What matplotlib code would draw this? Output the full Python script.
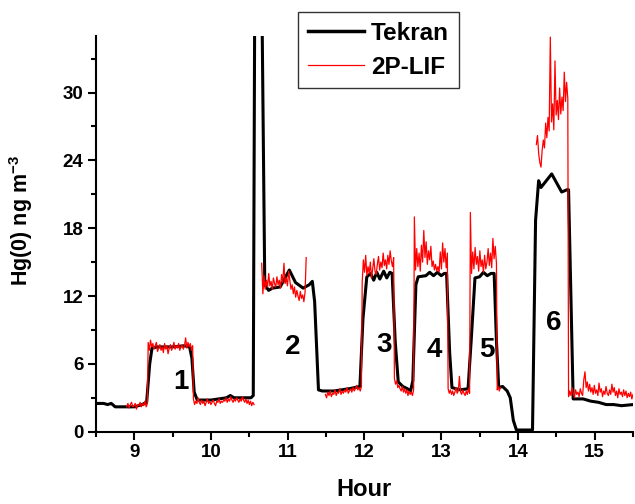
import numpy as np
import matplotlib.pyplot as plt

plt.rcParams['font.family'] = ['Liberation Sans', 'DejaVu Sans']
plt.rcParams['font.weight'] = 'bold'
plt.rcParams['mathtext.fontset'] = 'custom'
plt.rcParams['mathtext.rm'] = 'Liberation Sans:bold'
plt.rcParams['mathtext.bf'] = 'Liberation Sans:bold'

# Tekran readings (hour, Hg(0) ng m-3)
tekran_hour = [8.50, 8.60, 8.65, 8.70, 8.75, 8.80, 8.90, 9.00, 9.10, 9.16, 9.20, 9.23,
               9.30, 9.50, 9.65, 9.72, 9.75, 9.78, 9.82, 9.90, 10.00, 10.10, 10.20, 10.25,
               10.30, 10.40, 10.52, 10.55, 10.57, 10.66, 10.70, 10.75, 10.80, 10.90, 11.02,
               11.10, 11.20, 11.28, 11.32, 11.35, 11.40, 11.45, 11.60, 11.80, 11.94, 11.98,
               12.03, 12.08, 12.12, 12.16, 12.20, 12.25, 12.29, 12.33, 12.36, 12.40, 12.44,
               12.50, 12.56, 12.60, 12.63, 12.67, 12.70, 12.80, 12.85, 12.90, 12.95, 13.00,
               13.04, 13.07, 13.11, 13.14, 13.25, 13.35, 13.39, 13.44, 13.50, 13.55, 13.60,
               13.65, 13.69, 13.72, 13.75, 13.80, 13.86, 13.90, 13.94, 13.98, 14.19, 14.23,
               14.27, 14.30, 14.44, 14.57, 14.64, 14.66, 14.72, 14.85, 14.95, 15.05, 15.15,
               15.25, 15.35, 15.50]
tekran_hg = [2.5, 2.5, 2.4, 2.5, 2.2, 2.2, 2.2, 2.2, 2.4, 2.6, 6.0, 7.4,
             7.5, 7.5, 7.6, 7.5, 6.5, 3.5, 2.8, 2.8, 2.8, 2.9, 3.0, 3.2,
             3.0, 3.0, 3.0, 3.2, 40.0, 40.0, 13.0, 12.5, 12.7, 12.8, 14.3,
             13.2, 12.7, 13.0, 13.3, 11.5, 3.7, 3.6, 3.6, 3.8, 4.0, 10.0,
             13.7, 14.0, 13.4, 14.1, 13.5, 14.2, 13.6, 14.1, 14.0, 8.0, 4.4,
             4.0, 3.8, 3.6, 4.5, 13.0, 13.7, 13.8, 14.1, 13.8, 14.1, 13.8,
             14.0, 14.0, 7.0, 3.9, 3.7, 3.8, 8.0, 13.6, 13.7, 14.1, 13.8,
             14.0, 14.0, 8.0, 3.9, 4.0, 3.6, 3.0, 1.0, 0.15, 0.15, 18.7,
             22.2, 21.6, 22.8, 21.2, 21.4, 21.4, 2.9, 2.9, 2.7, 2.6, 2.4,
             2.4, 2.3, 2.4]

# 2P-LIF readings, each piece: (first hour, last hour) and evenly spaced values
lif_1a_span = (8.90, 9.17)
lif_1a = [2.2, 2.5, 2.1, 2.4, 2.6, 2.2, 2.3, 2.5, 2.0, 2.4, 2.3, 2.6, 2.2, 2.5, 2.3, 2.7, 2.2, 2.5]
lif_1b_span = (9.18, 9.76)
lif_1b = [7.9, 7.2, 8.1, 7.5, 7.8, 7.3, 7.6, 7.9, 7.1, 7.4, 7.7, 7.2, 7.5, 7.0, 7.8, 7.3, 7.6, 6.9,
          7.4, 7.7, 7.2, 7.5, 7.9, 7.3, 7.6, 7.4, 7.8, 7.2, 7.5, 7.7, 7.3, 7.6, 8.3, 7.4, 7.9, 7.5,
          7.8, 7.2, 7.6]
lif_1c_span = (9.77, 10.56)
lif_1c = [2.9, 2.4, 2.7, 2.5, 3.0, 2.6, 2.4, 2.8, 2.5, 2.7, 2.3, 2.6, 2.9, 2.5, 2.7, 2.4, 2.6, 2.8,
          2.5, 2.3, 2.7, 2.6, 2.9, 2.5, 2.7, 2.6, 2.8, 2.7, 3.0, 2.6, 2.9, 2.7, 3.1, 2.8, 2.6, 2.9,
          2.7, 3.0, 2.8, 2.6, 2.9, 2.7, 3.1, 2.8, 2.6, 2.9, 2.5, 2.8, 2.4, 2.7, 2.3, 2.6, 2.4]
lif_2_span = (10.66, 11.24)
lif_2 = [14.9, 12.2, 13.8, 12.6, 13.4, 12.8, 14.0, 12.9, 13.3, 12.6, 13.6, 13.1, 12.8, 13.7, 13.0,
         13.4, 12.7, 13.9, 13.2, 14.9, 13.1, 13.6, 12.9, 14.2, 13.4, 12.6, 13.0, 12.2, 12.8, 11.9,
         12.5, 12.0, 11.6, 12.4, 11.8, 12.1, 11.5, 12.3, 15.4]
lif_3a_span = (11.49, 11.96)
lif_3a = [3.3, 3.0, 3.5, 3.2, 3.6, 3.1, 3.4, 3.3, 3.7, 3.2, 3.5, 3.4, 3.8, 3.3, 3.6, 3.4, 3.7, 3.5,
          3.9, 3.4, 3.6, 3.8, 3.5, 3.9, 3.6, 3.8, 4.1, 3.7, 3.9, 3.6, 4.0]
lif_3b_span = (11.97, 12.38)
lif_3b = [13.2, 15.2, 14.1, 15.6, 13.8, 14.6, 14.0, 15.0, 13.6, 14.4, 15.3, 14.2, 13.9, 14.8, 15.5,
          14.3, 15.0, 14.5, 15.8, 14.7, 15.2, 14.4, 15.6, 14.8, 16.0, 15.1, 14.6, 15.4]
lif_4a_span = (12.39, 12.64)
lif_4a = [4.7, 4.2, 4.5, 3.9, 4.1, 3.8, 3.6, 4.0, 3.5, 3.8, 3.4, 3.7, 3.2, 3.6, 3.3, 3.5, 3.2, 3.7]
lif_4b_span = (12.65, 13.08)
lif_4b = [19.0, 14.3, 16.2, 14.6, 15.8, 14.2, 16.5, 15.0, 17.8, 15.4, 16.8, 14.8, 16.0, 15.2, 16.4,
          14.6, 15.1, 14.3, 14.8, 14.2, 14.6, 14.1, 15.9, 14.4, 16.7, 15.0, 16.2, 14.5, 15.8]
lif_5a_span = (13.09, 13.37)
lif_5a = [3.8, 3.4, 3.7, 3.3, 3.6, 3.2, 3.5, 3.9, 3.4, 3.6, 4.9, 3.5, 3.3, 3.7, 3.4, 3.2, 3.6, 3.3,
          3.8, 3.4]
lif_5b_span = (13.38, 13.72)
lif_5b = [19.4, 14.0, 15.9, 14.4, 16.3, 14.8, 15.5, 14.2, 16.0, 14.6, 15.2, 14.1, 15.6, 14.4, 15.0,
          16.2, 14.7, 15.8, 14.5, 17.1, 15.3, 16.4, 14.9]
lif_5c_span = (13.73, 13.77)
lif_5c = [3.7, 4.0, 3.6, 3.9]
lif_6a_span = (14.24, 14.65)
lif_6a = [25.4, 26.2, 24.6, 23.8, 23.4, 24.9, 25.8, 25.1, 27.3, 26.0, 27.8, 26.6, 34.9, 27.4, 29.0,
          26.7, 32.8, 28.0, 29.3, 27.6, 30.4, 28.1, 29.6, 28.4, 31.8, 29.2, 30.9, 29.5]
lif_6b_span = (14.66, 15.50)
lif_6b = [3.1, 3.6, 3.2, 3.9, 3.4, 3.0, 3.7, 3.3, 3.5, 3.1, 3.8, 3.4, 3.2, 4.6, 5.3, 3.9, 4.4, 3.6,
          4.2, 3.5, 3.9, 3.3, 4.1, 3.4, 3.7, 3.2, 4.3, 3.5, 3.8, 3.1, 3.6, 3.3, 4.0, 3.4, 3.2, 3.7,
          3.3, 4.2, 3.5, 3.9, 3.2, 3.6, 3.0, 3.8, 3.3, 3.5, 3.1, 3.7, 3.2, 3.6, 3.0, 3.4, 3.1, 3.5,
          2.9, 3.3]

# continuous recording stretches (gaps between them)
lif_stretches = [
    [(lif_1a_span, lif_1a), (lif_1b_span, lif_1b), (lif_1c_span, lif_1c)],
    [(lif_2_span, lif_2)],
    [(lif_3a_span, lif_3a), (lif_3b_span, lif_3b), (lif_4a_span, lif_4a), (lif_4b_span, lif_4b),
     (lif_5a_span, lif_5a), (lif_5b_span, lif_5b), (lif_5c_span, lif_5c)],
    [(lif_6a_span, lif_6a), (lif_6b_span, lif_6b)],
]

step_labels = ['1', '2', '3', '4', '5', '6']
step_label_hour = [9.61, 11.06, 12.25, 12.91, 13.60, 14.47]
step_label_hg = [4.4, 7.5, 7.7, 7.2, 7.2, 9.6]

lif_t, lif_v = [], []
for stretch in lif_stretches:
    for (t0, t1), vals in stretch:
        lif_t.extend(np.linspace(t0, t1, len(vals)))
        lif_v.extend(vals)
    lif_t.append(np.nan)
    lif_v.append(np.nan)

fig = plt.figure(figsize=(6.35, 5.04), dpi=100)
ax = fig.add_axes([96/635, 1-431.7/504, (633-96)/635, (431.7-36)/504])

ax.plot(tekran_hour, tekran_hg, color='black', lw=2.2, label='Tekran', zorder=2)
ax.plot(lif_t, lif_v, color='#ff0000', lw=0.9, label='2P-LIF', zorder=3)

for lab, x, y in zip(step_labels, step_label_hour, step_label_hg):
    ax.text(x, y, lab, fontsize=20, fontweight='bold', ha='center', va='center')

ax.set_xlim(8.5, 15.5)
ax.set_ylim(0, 35)
ax.set_xticks(np.arange(9, 16, 1))
ax.set_xticks(np.arange(8.5, 15.6, 0.5), minor=True)
ax.set_yticks(np.arange(0, 31, 6))
ax.set_yticks(np.arange(0, 35, 3), minor=True)
ax.spines['top'].set_visible(False)
ax.spines['right'].set_visible(False)
for s in ['left', 'bottom']:
    ax.spines[s].set_linewidth(1.5)
ax.tick_params(which='major', length=6, width=1.5, labelsize=13.5, pad=3)
ax.tick_params(which='minor', length=3.5, width=1.5)
ax.set_xlabel('Hour', fontsize=17, fontweight='bold', labelpad=12)
ax.set_ylabel('Hg(0) ng m$^{-3}$', fontsize=15.5, fontweight='bold')
ax.yaxis.set_label_coords(-0.113, 0.535)

leg = fig.legend(loc='upper left', bbox_to_anchor=(298/635, 1-12/504), fontsize=17.5,
                 frameon=True, fancybox=False, edgecolor='black', handlelength=2.3,
                 handletextpad=0.3, labelspacing=0.45, borderaxespad=0, borderpad=0.4)
leg.get_frame().set_linewidth(1.0)
leg.get_lines()[0].set_linewidth(2.5)

fig.savefig('out.png', dpi=100)
